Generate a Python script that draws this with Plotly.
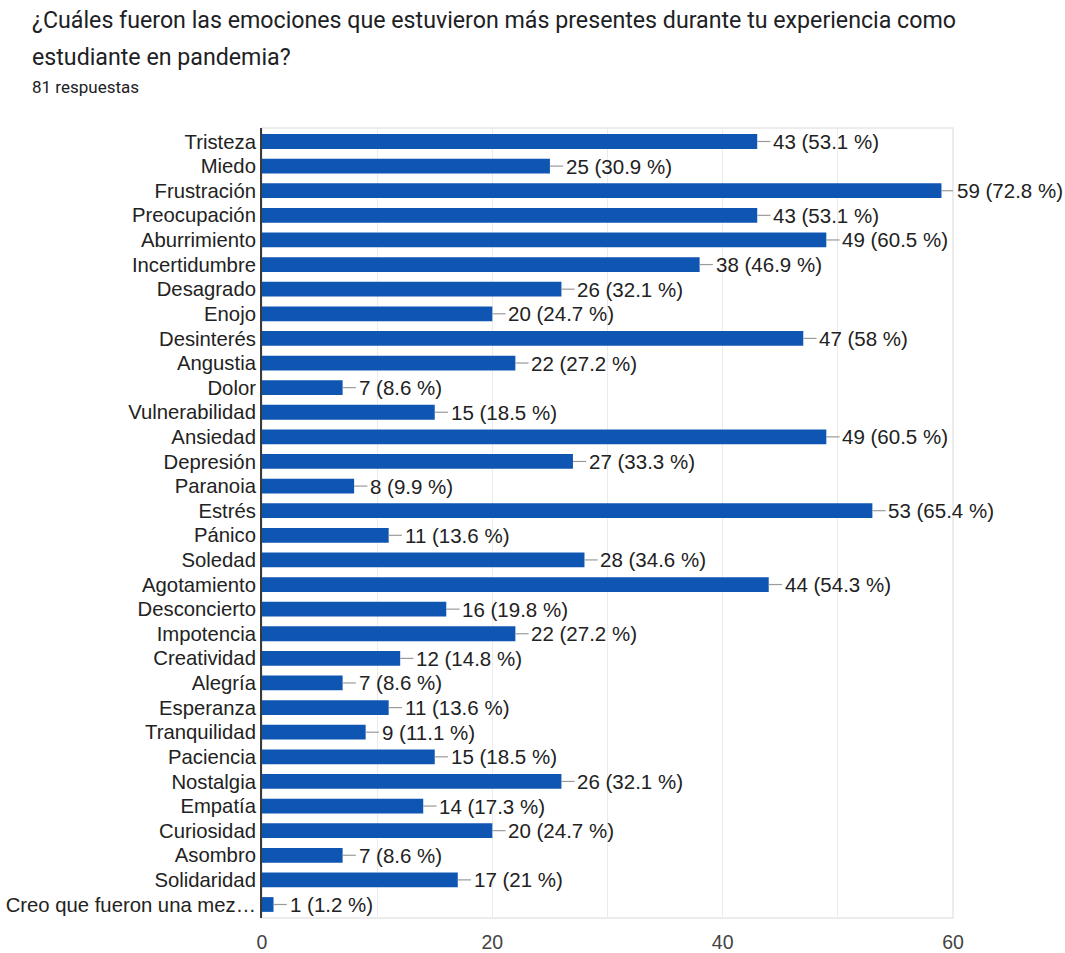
import plotly.graph_objects as go

# Survey results: emotions most present during the pandemic student experience
emotions = [
    "Tristeza", "Miedo", "Frustración", "Preocupación", "Aburrimiento",
    "Incertidumbre", "Desagrado", "Enojo", "Desinterés", "Angustia",
    "Dolor", "Vulnerabilidad", "Ansiedad", "Depresión", "Paranoia",
    "Estrés", "Pánico", "Soledad", "Agotamiento", "Desconcierto",
    "Impotencia", "Creatividad", "Alegría", "Esperanza", "Tranquilidad",
    "Paciencia", "Nostalgia", "Empatía", "Curiosidad", "Asombro",
    "Solidaridad", "Creo que fueron una mez…",
]
counts = [
    43, 25, 59, 43, 49,
    38, 26, 20, 47, 22,
    7, 15, 49, 27, 8,
    53, 11, 28, 44, 16,
    22, 12, 7, 11, 9,
    15, 26, 14, 20, 7,
    17, 1,
]
total_responses = 81
x_ticks = [0, 20, 40, 60]

title_line1 = "¿Cuáles fueron las emociones que estuvieron más presentes durante tu experiencia como"
title_line2 = "estudiante en pandemia?"
subtitle = f"{total_responses} respuestas"


def pct_text(n):
    p = f"{n / total_responses * 100:.1f}".rstrip("0").rstrip(".")
    return f"{n} ({p} %)"


labels = [pct_text(c) for c in counts]

W, H = 1065, 953
left, right, top, bottom = 262, 112, 128, 35
plot_w = W - left - right
plot_h = H - top - bottom


def px_to_paper(px, py):
    return (px - left) / plot_w, (H - bottom - py) / plot_h


BAR = "#0f56b3"
TEXT = "#222222"
FONT = "Liberation Sans, Arial, sans-serif"

fig = go.Figure()
fig.add_trace(go.Bar(
    y=emotions,
    x=counts,
    orientation="h",
    marker=dict(color=BAR, line=dict(width=0)),
    error_x=dict(type="data", symmetric=False, array=[1.15] * len(counts),
                 arrayminus=[0] * len(counts), width=0, thickness=1.2,
                 color="#9a9a9a"),
    hoverinfo="skip",
))

annotations = []
for e, c, lab in zip(emotions, counts, labels):
    annotations.append(dict(
        x=c, y=e, xref="x", yref="y", text=lab, showarrow=False,
        xanchor="left", yanchor="middle", xshift=14,
        font=dict(family=FONT, size=20.5, color=TEXT),
    ))

for txt, py, size in [(title_line1, 20, 23.2), (title_line2, 57, 23.2), (subtitle, 87, 17)]:
    ax, ay = px_to_paper(30, py)
    annotations.append(dict(
        x=ax, y=ay, xref="paper", yref="paper", text=txt, showarrow=False,
        xanchor="left", yanchor="middle",
        font=dict(family="Roboto, sans-serif", size=size, color="#202124"),
    ))

fig.update_layout(
    width=W, height=H,
    margin=dict(l=left, r=right, t=top, b=bottom, pad=0, autoexpand=False),
    paper_bgcolor="white", plot_bgcolor="white",
    showlegend=False,
    bargap=0.4,
    annotations=annotations,
    shapes=[dict(type="rect", xref="x domain", yref="y domain",
                 x0=0, x1=1, y0=0, y1=1, line=dict(color="#e6e6e6", width=1.5),
                 layer="below")],
    xaxis=dict(
        range=[0, 60], tickvals=x_ticks, showgrid=True, gridcolor="#ebebeb",
        gridwidth=1, zeroline=False, showline=False, ticks="",
        ticklabelstandoff=10, automargin=False,
        tickfont=dict(family=FONT, size=19.5, color="#444444"),
        minor=dict(dtick=10, tick0=0, showgrid=True, gridcolor="#ebebeb", gridwidth=1),
        fixedrange=True,
    ),
    yaxis=dict(
        autorange="reversed", showgrid=False, zeroline=False,
        showline=True, linecolor="#3a3a3a", linewidth=2, ticks="",
        ticklabelstandoff=0, automargin=False,
        tickfont=dict(family=FONT, size=20.3, color=TEXT),
        fixedrange=True,
    ),
)

fig.write_html("out.html")
